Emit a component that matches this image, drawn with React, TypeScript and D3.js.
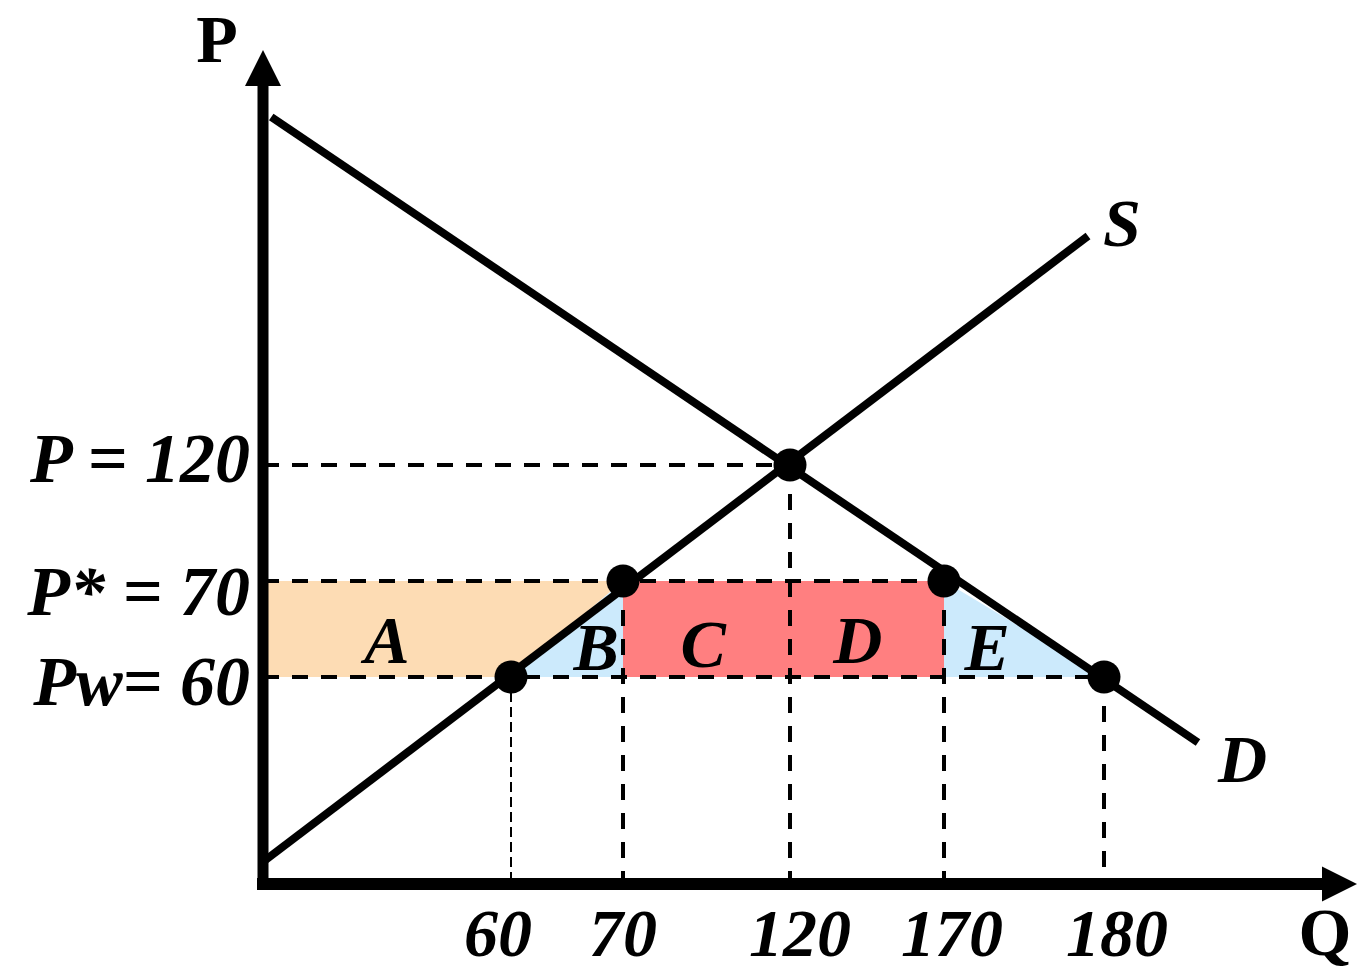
import React from "react";
import * as d3 from "d3";

// ---------- data ----------
const Q_TICKS = [60, 70, 120, 170, 180];
const P_TICKS = [120, 70, 60];
const P_TICK_LABELS = ["P = 120", "P* = 70", "Pw= 60"];
const SUPPLY: [number, number][] = [[0, 6.4], [179, 200]];
const DEMAND: [number, number][] = [[2, 240], [200, 41]];
const KEY_POINTS: [number, number][] = [[60, 60], [70, 70], [120, 120], [170, 70], [180, 60]];
const REGION_A: [number, number][] = [[0, 70], [70, 70], [60, 60], [0, 60]];
const REGION_B: [number, number][] = [[60, 60], [70, 70], [70, 60]];
const REGION_CD: [number, number][] = [[70, 70], [170, 70], [170, 60], [70, 60]];
const REGION_E: [number, number][] = [[170, 70], [180, 60], [170, 60]];
const REGION_LABELS = ["A", "B", "C", "D", "E"];
const REGION_LABEL_Q = [30, 67.6, 94, 142, 172.7];
const REGION_LABEL_P = [61.5, 60.75, 61, 61.5, 60.75];

// ---------- layout ----------
const W = 1357;
const H = 973;
const Q_DOMAIN = [0, 60, 70, 120, 170, 180, 200];
const X_RANGE = [263, 511, 623, 790, 944, 1104, 1198];
const P_DOMAIN = [0, 60, 70, 120, 200, 240];
const Y_RANGE = [884, 677, 581, 465, 236, 117];
const P_LABEL_DY = [17, 34, 28];
const Q_LABEL_DX = [-13, 0, 10, 8, 13];
const FONT = "'Liberation Serif', 'Times New Roman', serif";
const COLORS = { A: "#FDDCB4", B: "#CCEAFC", CD: "#FF7F80", E: "#CCEAFC" };

export default function App() {
  const x = d3.scaleLinear().domain(Q_DOMAIN).range(X_RANGE);
  const y = d3.scaleLinear().domain(P_DOMAIN).range(Y_RANGE);
  const line = d3
    .line<[number, number]>()
    .x((d) => x(d[0]))
    .y((d) => y(d[1]));
  const poly = (pts: [number, number][]) => line(pts) + "Z";

  const axisX = x(0);
  const axisY = y(0);
  const dash = "16 13";

  return (
    <svg
      width={W}
      height={H}
      viewBox={`0 0 ${W} ${H}`}
      style={{ position: "absolute", left: 0, top: 0, display: "block", background: "#fff" }}
    >
      {/* shaded regions */}
      <path d={poly(REGION_A)} fill={COLORS.A} />
      <path d={poly(REGION_B)} fill={COLORS.B} />
      <path d={poly(REGION_CD)} fill={COLORS.CD} />
      <path d={poly(REGION_E)} fill={COLORS.E} />

      {/* dashed guides */}
      {KEY_POINTS.map(([q, p], i) => (
        <g key={"g" + i}>
          <line
            x1={axisX}
            x2={x(q)}
            y1={y(p)}
            y2={y(p)}
            stroke="#000"
            strokeWidth={4}
            strokeDasharray={dash}
          />
          <line
            x1={x(q)}
            x2={x(q)}
            y1={y(p)}
            y2={axisY}
            stroke="#000"
            strokeWidth={q === 60 ? 2 : 4}
            strokeDasharray={q === 60 ? "10 5" : dash}
          />
        </g>
      ))}

      {/* supply & demand */}
      <path d={line(SUPPLY) || ""} fill="none" stroke="#000" strokeWidth={8} />
      <path d={line(DEMAND) || ""} fill="none" stroke="#000" strokeWidth={8} />

      {/* points */}
      {KEY_POINTS.map(([q, p], i) => (
        <circle key={"c" + i} cx={x(q)} cy={y(p)} r={16.5} fill="#000" />
      ))}

      {/* axes */}
      <line x1={axisX} x2={axisX} y1={axisY + 6} y2={84} stroke="#000" strokeWidth={11} />
      <path d={`M${axisX - 18},86 L${axisX},50 L${axisX + 18},86 Z`} fill="#000" />
      <line x1={axisX - 6} x2={1324} y1={axisY} y2={axisY} stroke="#000" strokeWidth={12} />
      <path d={`M1322,${axisY - 17.5} L1357,${axisY} L1322,${axisY + 17.5} Z`} fill="#000" />

      {/* axis titles */}
      <text x={217} y={62} textAnchor="middle" fontFamily={FONT} fontWeight="bold" fontSize={68}>
        P
      </text>
      <text x={1325} y={955} textAnchor="middle" fontFamily={FONT} fontWeight="bold" fontSize={68}>
        Q
      </text>
      <text x={1103} y={246} fontFamily={FONT} fontWeight="bold" fontStyle="italic" fontSize={68}>
        S
      </text>
      <text x={1218} y={782} fontFamily={FONT} fontWeight="bold" fontStyle="italic" fontSize={68}>
        D
      </text>

      {/* price labels */}
      {P_TICKS.map((p, i) => (
        <text
          key={"p" + i}
          x={250}
          y={y(p) + P_LABEL_DY[i]}
          textAnchor="end"
          fontFamily={FONT}
          fontWeight="bold"
          fontStyle="italic"
          fontSize={70}
        >
          {P_TICK_LABELS[i]}
        </text>
      ))}

      {/* quantity labels */}
      {Q_TICKS.map((q, i) => (
        <text
          key={"q" + i}
          x={x(q) + Q_LABEL_DX[i]}
          y={956}
          textAnchor="middle"
          fontFamily={FONT}
          fontWeight="bold"
          fontStyle="italic"
          fontSize={68}
        >
          {q}
        </text>
      ))}

      {/* region labels */}
      {REGION_LABELS.map((t, i) => (
        <text
          key={"r" + i}
          x={x(REGION_LABEL_Q[i])}
          y={y(REGION_LABEL_P[i])}
          textAnchor="middle"
          fontFamily={FONT}
          fontWeight="bold"
          fontStyle="italic"
          fontSize={68}
        >
          {t}
        </text>
      ))}
    </svg>
  );
}
